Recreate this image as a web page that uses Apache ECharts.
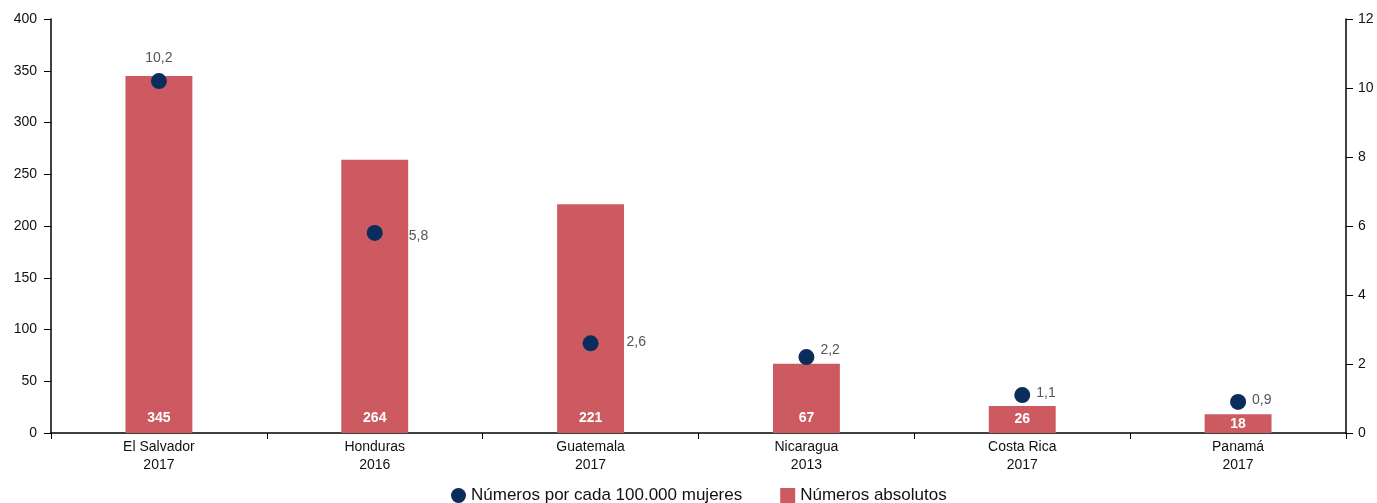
<!DOCTYPE html>
<html>
<head>
<meta charset="utf-8">
<script src="https://cdn.jsdelivr.net/npm/echarts@6/dist/echarts.min.js"></script>
<style>
  html, body { margin: 0; padding: 0; background: #fff; }
  #chart { width: 1377px; height: 503px; }
</style>
</head>
<body>
<div id="chart"></div>
<script>
var paises = ['El Salvador\n2017', 'Honduras\n2016', 'Guatemala\n2017', 'Nicaragua\n2013', 'Costa Rica\n2017', 'Panamá\n2017'];
var absolutos = [345, 264, 221, 67, 26, 18];
var tasas = [10.2, 5.8, 2.6, 2.2, 1.1, 0.9];

var dom = document.getElementById('chart');
var myChart = echarts.init(dom);

// where each rate label sits relative to its point
var labelPos = [
    {position: 'top', distance: 8},
    {position: 'right', distance: 26, offset: [0, 3]},
    {position: 'right', distance: 28, offset: [0, -1]},
    {position: 'right', distance: 6, offset: [0, -7]},
    {position: 'right', distance: 6, offset: [0, -2]},
    {position: 'right', distance: 6, offset: [0, -2]}
];
var tasaData = tasas.map(function (v, i) {
    return {value: v, label: labelPos[i]};
});
// short bars get their label centred in the bar
var barData = absolutos.map(function (v) {
    if (v < 40) return {value: v, label: {position: 'inside'}};
    return v;
});

var font = 'Liberation Sans, Arial, sans-serif';

var option = {
    animation: false,
    textStyle: {fontFamily: font},
    grid: {left: 51, right: 31, top: 19, bottom: 70},
    legend: {
        top: 482,
        left: 446,
        itemGap: 38,
        itemWidth: 15,
        itemHeight: 15,
        textStyle: {fontSize: 17, color: '#111', fontFamily: font},
        data: [
            {name: 'Números por cada 100.000 mujeres', icon: 'circle'},
            {name: 'Números absolutos', icon: 'rect'}
        ]
    },
    xAxis: {
        type: 'category',
        data: paises,
        axisLine: {lineStyle: {color: '#000', width: 1.5}},
        axisTick: {show: true, length: 6, lineStyle: {color: '#000'}},
        axisLabel: {color: '#111', fontSize: 14, lineHeight: 18, margin: 5}
    },
    yAxis: [
        {
            type: 'value',
            min: 0, max: 400, interval: 50,
            axisLine: {show: true, lineStyle: {color: '#000', width: 1.5}},
            axisTick: {show: true, length: 7, lineStyle: {color: '#000'}},
            axisLabel: {color: '#111', fontSize: 14, margin: 14},
            splitLine: {show: false}
        },
        {
            type: 'value',
            min: 0, max: 12, interval: 2,
            axisLine: {show: true, lineStyle: {color: '#000', width: 1.5}},
            axisTick: {show: true, length: 7, lineStyle: {color: '#000'}},
            axisLabel: {color: '#111', fontSize: 14, margin: 12},
            splitLine: {show: false}
        }
    ],
    series: [
        {
            name: 'Números absolutos',
            type: 'bar',
            data: barData,
            barWidth: '31%',
            itemStyle: {color: '#CD5A60'},
            label: {
                show: true,
                position: 'insideBottom',
                distance: 8,
                color: '#fff',
                fontWeight: 'bold',
                fontSize: 14
            },
            z: 1
        },
        {
            name: 'Números por cada 100.000 mujeres',
            type: 'scatter',
            yAxisIndex: 1,
            data: tasaData,
            symbol: 'circle',
            symbolSize: 16,
            itemStyle: {color: '#0B2D5C', opacity: 1},
            label: {
                show: true,
                color: '#555',
                fontSize: 14,
                formatter: function (p) {
                    return String(p.value).replace('.', ',');
                }
            },
            z: 3
        }
    ]
};

if (option && typeof option == "object") {
    myChart.setOption(option, true);
}
</script>
</body>
</html>
